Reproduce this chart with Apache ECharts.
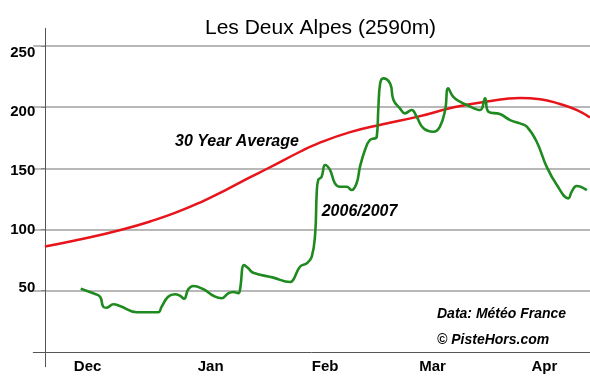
<!DOCTYPE html>
<html><head><meta charset="utf-8">
<script src="https://cdn.jsdelivr.net/npm/echarts@6/dist/echarts.min.js"></script>
<style>html,body{margin:0;padding:0;background:#fff}#c{width:590px;height:390px}</style>
</head><body><div id="c"></div>
<script>
const titleText = 'Les Deux Alpes (2590m)';
const monthLabels = ['Dec', 'Jan', 'Feb', 'Mar', 'Apr'];
const monthDays = [11.2, 43.6, 73.7, 102.0, 131.4];
const yTicks = [50, 100, 150, 200, 250];

const avgDays = [0, 7.9, 14.5, 21.1, 27.6, 34.2, 40.8, 47.4, 53.9, 58.7, 67.1, 71.6, 80.3, 88.9, 97.9, 107.9, 116.3, 125.0, 130.3, 135.5, 140.0, 143.4];
const avgDepth = [86, 91, 95.5, 100.5, 106.5, 113.5, 122, 132, 142.5, 150, 163.5, 170, 179.5, 186, 192, 200, 204.5, 207.5, 206.5, 202.5, 197.5, 191.5];

const seasonDays = [9.4, 12.7, 14.5, 15.3, 16.2, 18.0, 19.7, 24.1, 26.8, 29.8, 30.7, 32.4, 34.2, 35.5, 36.6, 37.7, 39.0, 41.7, 44.3, 46.5, 48.2, 49.6, 50.9, 51.3, 52.4, 53.5, 54.8, 60.1, 64.5, 65.3, 67.1, 68.9, 70.2, 71.1, 71.5, 71.9, 72.8, 73.7, 75.0, 76.3, 77.6, 79.4, 80.7, 82.0, 82.9, 84.2, 85.5, 87.3, 87.7, 88.2, 89.0, 90.8, 91.7, 93.4, 94.7, 96.5, 97.8, 99.6, 102.2, 103.9, 105.3, 106.1, 107.4, 109.2, 111.0, 114.5, 115.8, 116.7, 119.7, 122.4, 125.0, 126.8, 129.4, 132.0, 134.7, 137.7, 138.6, 139.9, 142.6];
const seasonDepth = [51.6, 47.8, 45.0, 36.9, 36.0, 38.8, 37.4, 32.3, 32.3, 32.3, 36.9, 45.0, 47.0, 45.8, 43.4, 51.1, 53.8, 51.1, 45.8, 43.7, 47.8, 48.9, 47.8, 50.5, 70.9, 68.2, 64.6, 60.6, 57.0, 58.7, 69.5, 72.3, 77.7, 96.8, 129.5, 140.4, 143.1, 152.7, 148.6, 137.7, 134.9, 134.9, 132.2, 137.7, 151.3, 164.9, 173.1, 175.8, 197.6, 219.4, 223.5, 219.4, 205.8, 199.0, 194.9, 197.6, 192.1, 182.7, 179.9, 183.9, 197.6, 215.4, 208.5, 204.4, 201.7, 197.6, 207.2, 196.2, 194.3, 189.4, 186.7, 184.0, 171.7, 151.3, 136.3, 125.4, 130.8, 135.5, 132.2];

const avgLabel = '30 Year Average';
const seasonLabel = '2006/2007';
const sourceLabel = 'Data: Météo France';
const creditLabel = '© PisteHors.com';

const FONT = "'Liberation Sans', Arial, sans-serif";
const zip = (xs, ys) => xs.map((x, i) => [x, ys[i]]);

const chart = echarts.init(document.getElementById('c'), null, {renderer: 'canvas'});
chart.setOption({
  animation: false,
  backgroundColor: '#fff',
  title: {
    text: titleText, left: 200, top: 13,
    textStyle: {fontFamily: FONT, fontSize: 21, fontWeight: 'normal', color: '#000'}
  },
  grid: {left: 33.3, right: 0, top: 28.3, bottom: 23.3, containLabel: false, outerBoundsMode: 'none'},
  xAxis: {
    type: 'value', min: -3.08, max: 143.42,
    axisLine: {show: true, onZero: true, lineStyle: {color: '#555', width: 1}},
    axisTick: {show: false},
    splitLine: {show: false},
    axisLabel: {
      customValues: monthDays, margin: -7,
      fontFamily: FONT, fontSize: 15, fontWeight: 'bold', color: '#000',
      formatter: function (v) {
        let best = 0;
        monthDays.forEach((d, i) => { if (Math.abs(d - v) < Math.abs(monthDays[best] - v)) best = i; });
        return monthLabels[best];
      }
    }
  },
  yAxis: [{
    type: 'value', min: -12.2, max: 264.4,
    axisLine: {show: true, onZero: true, lineStyle: {color: '#555', width: 1}},
    axisTick: {show: true, customValues: yTicks, length: 4, lineStyle: {color: '#888'}},
    splitLine: {show: true, lineStyle: {color: '#a0a0a0', width: 1.5}},
    axisLabel: {show: false}
  }, {
    type: 'value', position: 'left', offset: -12, min: -16.7, max: 271.3,
    axisLine: {show: false, onZero: false},
    axisTick: {show: false},
    splitLine: {show: false},
    axisLabel: {
      customValues: yTicks, margin: 10,
      fontFamily: FONT, fontSize: 15, fontWeight: 'bold', color: '#000'
    }
  }],
  series: [{
    type: 'line', name: avgLabel, xAxisIndex: 0, yAxisIndex: 0,
    data: zip(avgDays, avgDepth), smooth: true, showSymbol: false, symbol: 'none',
    lineStyle: {color: '#e8141c', width: 2.5}
  }, {
    type: 'line', name: seasonLabel, xAxisIndex: 0, yAxisIndex: 0,
    data: zip(seasonDays, seasonDepth), smooth: 0.45, showSymbol: false, symbol: 'none',
    lineStyle: {color: '#1f8a1f', width: 2.6}
  }],
  graphic: [
    {type: 'text', left: 175, top: 134, style: {text: avgLabel, font: "italic bold 16px " + FONT, fill: '#000'}},
    {type: 'text', left: 321.7, top: 204, style: {text: seasonLabel, font: "italic bold 16px " + FONT, fill: '#000'}},
    {type: 'text', left: 437, top: 307, style: {text: sourceLabel, font: "italic bold 14px " + FONT, fill: '#000'}},
    {type: 'text', left: 437, top: 333, style: {text: creditLabel, font: "italic bold 14px " + FONT, fill: '#000'}}
  ]
});
</script></body></html>
